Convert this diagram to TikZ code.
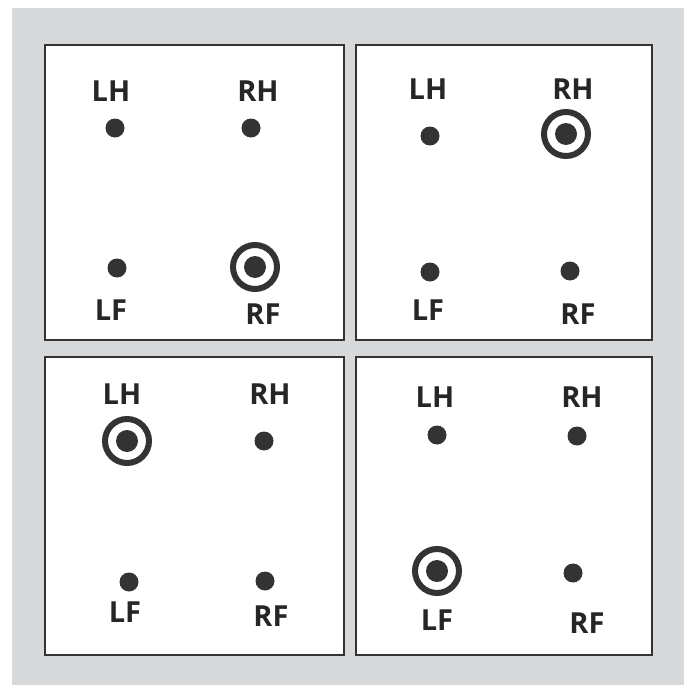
\documentclass[tikz,border=0pt]{standalone}
\usepackage{fontspec}
\setmainfont{Open Sans}
\usetikzlibrary{positioning}
\definecolor{padgrey}{HTML}{D8D9DB}
\definecolor{inkdark}{HTML}{333333}

\begin{document}
\begin{tikzpicture}[
  x=1pt, y=-1pt,
  font=\fontsize{29}{32}\selectfont\bfseries,
  panel/.style={draw=inkdark, line width=2.8pt, fill=white},
  foot/.style={circle, fill=inkdark, inner sep=0pt, minimum size=19pt},
  lifted/.style={circle, draw=inkdark, line width=6pt, fill=white,
                 inner sep=0pt, minimum size=44pt,
                 path picture={\fill[inkdark] (path picture bounding box.center) circle (11pt);}},
  lab/.style={text=black!85, inner sep=0pt, anchor=center}
]
\useasboundingbox (0,0) rectangle (688,685);
\fill[padgrey] (12,8) rectangle (684,685);
% ================= four panels =================
\draw[panel] (45,45)   rectangle (344,340);
\draw[panel] (356,45)  rectangle (652,340);
\draw[panel] (45,357)  rectangle (344,655);
\draw[panel] (356,357) rectangle (652,655);
% ----- panel 1: RF lifted -----
\node[lab]    (alh) at (111,91)  {LH};
\node[foot]   (alhd) at (115,128) {};
\node[lab]    (arh) at (258,91)  {RH};
\node[foot]   (arhd) at (251,128) {};
\node[foot]   (alfd) at (117,268) {};
\node[lab]    (alf) at (111,310) {LF};
\node[lifted] (arfd) at (255,267) {};
\node[lab]    (arf) at (263,314) {RF};
% ----- panel 2: RH lifted -----
\node[lab]    (blh) at (428,89)  {LH};
\node[foot]   (blhd) at (430,136) {};
\node[lab]    (brh) at (573,89)  {RH};
\node[lifted] (brhd) at (566,134) {};
\node[foot]   (blfd) at (430,272) {};
\node[lab]    (blf) at (428,310) {LF};
\node[foot]   (brfd) at (570,271) {};
\node[lab]    (brf) at (578,314) {RF};
% ----- panel 3: LH lifted -----
\node[lab]    (clh) at (122,394) {LH};
\node[lifted] (clhd) at (127,441) {};
\node[lab]    (crh) at (270,394) {RH};
\node[foot]   (crhd) at (264,441) {};
\node[foot]   (clfd) at (129,582) {};
\node[lab]    (clf) at (125,612) {LF};
\node[foot]   (crfd) at (265,581) {};
\node[lab]    (crf) at (271,616) {RF};
% ----- panel 4: LF lifted -----
\node[lab]    (dlh) at (435,397) {LH};
\node[foot]   (dlhd) at (437,435) {};
\node[lab]    (drh) at (582,397) {RH};
\node[foot]   (drhd) at (577,436) {};
\node[lifted] (dlfd) at (437,571) {};
\node[lab]    (dlf) at (437,620) {LF};
\node[foot]   (drfd) at (573,573) {};
\node[lab]    (drf) at (587,623) {RF};
\end{tikzpicture}
\end{document}
